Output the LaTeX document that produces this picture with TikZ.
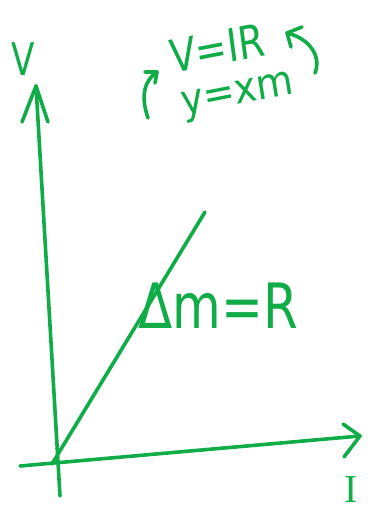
\documentclass[tikz,border=0pt]{standalone}
\usepackage{fontspec}
\setmainfont{DejaVu Sans}
\newfontfamily\serifI{Liberation Serif}
\definecolor{pen}{RGB}{16,172,72}
\begin{document}
\begin{tikzpicture}[x=1pt,y=-1pt,
  stroke/.style={draw=pen,line width=3.6pt,line cap=round,line join=round},
  lbl/.style={text=pen,inner sep=0pt,anchor=center}]
\useasboundingbox (0,0) rectangle (371,514);
% axes
\coordinate (o) at (52,464);
\coordinate (vbot) at (60,496);
\coordinate (vtop) at (36,86);
\coordinate (hleft) at (20,466);
\coordinate (hright) at (360,436);
\draw[stroke] (vbot) -- (vtop);
\draw[stroke] (22,122) -- (vtop) -- (48,122);
\draw[stroke] (hleft) -- (hright);
\draw[stroke] (343,424) -- (hright) -- (344,457);
% graph line
\coordinate (lend) at (205,212);
\draw[stroke] (o) -- (lend);
% axis labels
\node[lbl,font=\fontsize{36}{36}\selectfont,xscale=0.95,yscale=1.25] (vl) at (23,59) {V};
\node[lbl,font=\serifI\fontsize{36}{36}\selectfont,xscale=1.1,yscale=1.1] (il) at (351,490) {I};
% top equations
\node[lbl,font=\fontsize{38}{38}\selectfont,yscale=1.2,rotate=9] (eq1) at (217,48) {V=IR};
\node[lbl,font=\fontsize{38}{38}\selectfont,yscale=1.1,rotate=10] (eq2) at (238,97) {y=xm};
% curved arrows
\coordinate (la1) at (148,118);
\coordinate (la2) at (157,72);
\draw[stroke] (la1) .. controls (140,95) and (145,80) .. (la2);
\draw[stroke] (145,72) -- (la2) -- (155,83);
\coordinate (ra1) at (315,73);
\coordinate (ra2) at (287,33);
\draw[stroke] (ra1) .. controls (322,55) and (308,38) .. (ra2);
\draw[stroke] (302,27) -- (ra2) -- (291,47);
% slope label
\node[lbl,font=\fontsize{50}{50}\selectfont,yscale=1.25] (sl) at (218,306) {Δm=R};
\end{tikzpicture}
\end{document}
